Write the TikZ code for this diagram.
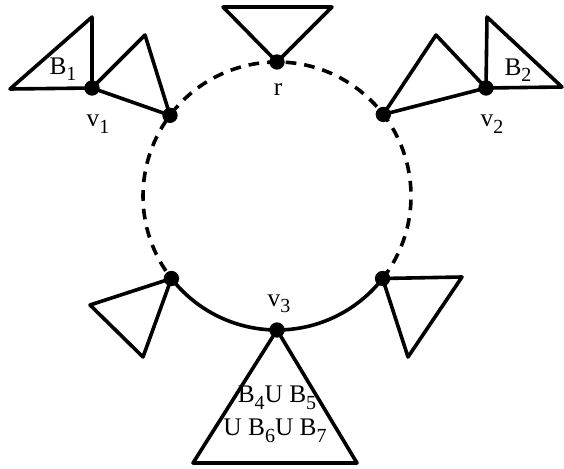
\documentclass[tikz,border=0pt]{standalone}
\usepackage{fontspec}
\setmainfont{Liberation Serif}
\newcommand\sbs[1]{\raisebox{-0.55ex}{\fontsize{15}{15}\selectfont #1}}
\begin{document}
\begin{tikzpicture}[x=0.75pt,y=0.75pt,
  edge/.style={line width=2.7pt, line join=round, line cap=round},
  dashedge/.style={line width=2.7pt, dash pattern=on 8pt off 6pt},
  dot/.style={circle, fill=black, inner sep=0pt, minimum size=11.5pt},
  lbl/.style={font=\fontsize{19}{21}\selectfont, inner sep=0pt}]
\useasboundingbox (0,0) rectangle (564,468);
\coordinate (o) at (277,272);
% circle arcs
\draw[dashedge] (o) ++(322:134) arc[start angle=-38, end angle=218, radius=134];
\draw[edge] (o) ++(218:134) arc[start angle=218, end angle=322, radius=134];
% dots
\path (o) ++(90:134) node[dot] (r) {};
\path (o) ++(143:134) node[dot] (a1) {};
\path (o) ++(37.5:134) node[dot] (a2) {};
\path (o) ++(218:134) node[dot] (a3) {};
\path (o) ++(322:134) node[dot] (a4) {};
\path (o) ++(270:134) node[dot] (v3) {};
\node[dot] (v1) at (92,380) {};
\node[dot] (v2) at (486,380) {};
% triangle corners
\coordinate (t1) at (223,461);
\coordinate (t2) at (332,461);
\coordinate (b1a) at (10,379);
\coordinate (b1b) at (92,451);
\coordinate (p1) at (145,433);
\coordinate (b2a) at (487,451);
\coordinate (b2b) at (562,381);
\coordinate (p2) at (436,433);
\coordinate (p3a) at (90,163);
\coordinate (p3b) at (143,111);
\coordinate (p4a) at (462,191);
\coordinate (p4b) at (408,111);
\coordinate (bl) at (193,5);
\coordinate (br) at (357,5);
% triangles
\draw[edge] (r.center) -- (t1) -- (t2) -- cycle;
\draw[edge] (v1.center) -- (b1a) -- (b1b) -- cycle;
\draw[edge] (v1.center) -- (p1) -- (a1.center) -- cycle;
\draw[edge] (v2.center) -- (b2a) -- (b2b) -- cycle;
\draw[edge] (v2.center) -- (p2) -- (a2.center) -- cycle;
\draw[edge] (a3.center) -- (p3a) -- (p3b) -- cycle;
\draw[edge] (a4.center) -- (p4a) -- (p4b) -- cycle;
\draw[edge] (v3.center) -- (bl) -- (br) -- cycle;
% labels
\node[lbl] (lB1) at (63,399) {B\sbs{1}};
\node[lbl] (lv1) at (98,344) {v\sbs{1}};
\node[lbl] (lr) at (278,378) {r};
\node[lbl] (lv2) at (492,344) {v\sbs{2}};
\node[lbl] (lB2) at (518,398) {B\sbs{2}};
\node[lbl] (lv3) at (279,164) {v\sbs{3}};
\node[lbl] (lbig1) at (277,70) {B\sbs{4}U B\sbs{5}};
\node[lbl] (lbig2) at (275,37) {U B\sbs{6}U B\sbs{7}};
\end{tikzpicture}
\end{document}
